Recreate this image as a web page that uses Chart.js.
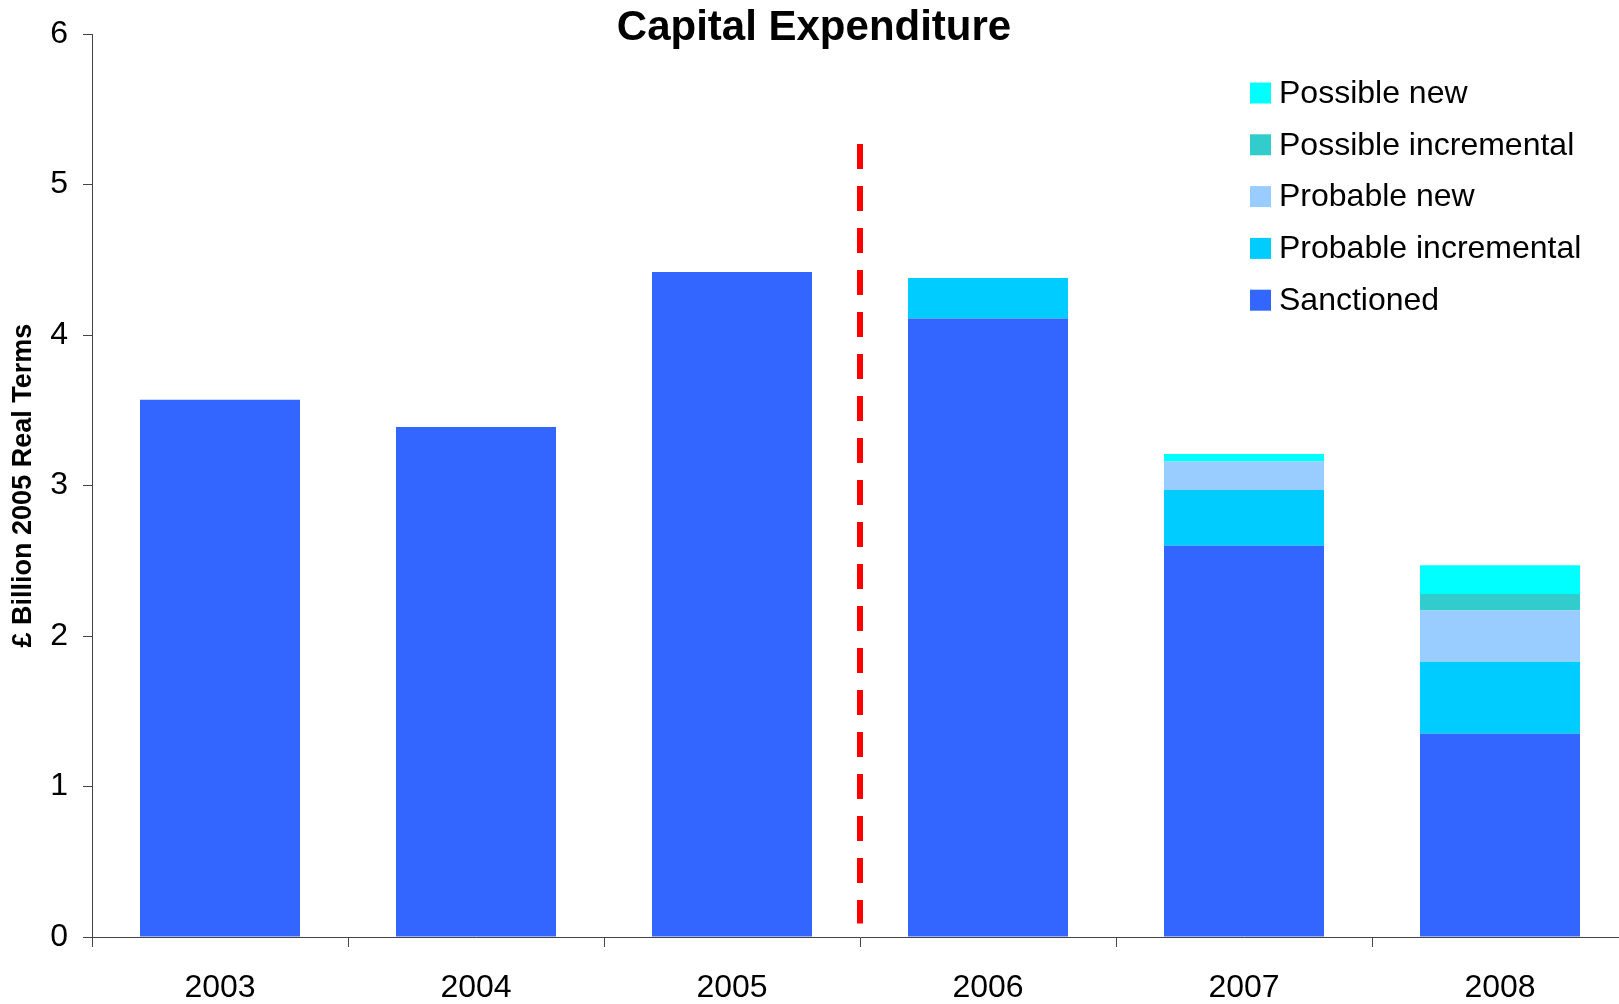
<!DOCTYPE html>
<html>
<head>
<meta charset="utf-8">
<script src="https://cdn.jsdelivr.net/npm/chart.js@4.4.1/dist/chart.umd.min.js"></script>
<style>
    html, body { margin: 0; padding: 0; overflow: hidden; background: #fff; }
    #wrap { position: absolute; left: 0; top: 0; width: 1640px; height: 1004px; }
</style>
</head>
<body>
<div id="wrap"><canvas id="capexChart" width="1640" height="1004"></canvas></div>
<script>
// Datos (£ billion, 2005 real terms)
const years = ['2003', '2004', '2005', '2006', '2007', '2008'];
const sanctioned = [3.57, 3.39, 4.42, 4.11, 2.60, 1.35];
const probableIncremental = [0, 0, 0, 0.27, 0.37, 0.48];
const probableNew = [0, 0, 0, 0, 0.19, 0.34];
const possibleIncremental = [0, 0, 0, 0, 0, 0.11];
const possibleNew = [0, 0, 0, 0, 0.05, 0.19];
const yTicks = [0, 1, 2, 3, 4, 5, 6];
// linea roja entre 2005 y 2006 (en valores del eje y)
const dividerTop = 5.27;
const dividerBottom = 0.09;

const FONT = '"Liberation Sans", Arial, sans-serif';

// Linea discontinua roja en el limite entre categorias
const dividerPlugin = {
    id: 'divider',
    afterDatasetsDraw(chart) {
        const x = chart.scales.x, y = chart.scales.y;
        const px = (x.getPixelForValue(2) + x.getPixelForValue(3)) / 2;
        const ctx = chart.ctx;
        ctx.save();
        ctx.strokeStyle = '#FF0000';
        ctx.lineWidth = 6;
        ctx.setLineDash([25, 17]);
        ctx.beginPath();
        ctx.moveTo(px, y.getPixelForValue(dividerTop));
        ctx.lineTo(px, y.getPixelForValue(dividerBottom));
        ctx.stroke();
        ctx.restore();
    }
};

// Leyenda dentro del area (orden invertido)
const legendPlugin = {
    id: 'boxLegend',
    afterDraw(chart) {
        const ctx = chart.ctx;
        const sets = chart.data.datasets.slice().reverse();
        ctx.save();
        ctx.font = '32px ' + FONT;
        ctx.textBaseline = 'middle';
        ctx.textAlign = 'left';
        sets.forEach((ds, i) => {
            const cy = 93 + i * 51.8;
            ctx.fillStyle = ds.backgroundColor;
            ctx.fillRect(1250, cy - 10.5, 21, 21);
            ctx.fillStyle = '#000';
            ctx.fillText(ds.label, 1279, cy + 1);
        });
        ctx.restore();
    }
};

const ctx = document.getElementById('capexChart').getContext('2d');
const capexChart = new Chart(ctx, {
    type: 'bar',
    data: {
        labels: years,
        datasets: [
            { label: 'Sanctioned', data: sanctioned, backgroundColor: '#3366FF' },
            { label: 'Probable incremental', data: probableIncremental, backgroundColor: '#00CCFF' },
            { label: 'Probable new', data: probableNew, backgroundColor: '#99CCFF' },
            { label: 'Possible incremental', data: possibleIncremental, backgroundColor: '#33CCCC' },
            { label: 'Possible new', data: possibleNew, backgroundColor: '#00FFFF' }
        ]
    },
    options: {
        responsive: false,
        animation: false,
        devicePixelRatio: 1,
        layout: { padding: { left: 0, right: 12, top: 0, bottom: 0 } },
        datasets: {
            bar: { categoryPercentage: 1, barPercentage: 0.625, borderWidth: 0 }
        },
        plugins: {
            legend: { display: false },
            tooltip: { enabled: false },
            title: {
                display: true,
                text: 'Capital Expenditure',
                color: '#000',
                font: { family: FONT, size: 42, weight: 'bold' },
                padding: { top: 2, bottom: -19 }
            }
        },
        scales: {
            x: {
                stacked: true,
                afterFit: s => { s.height = 67; },
                grid: { display: true, drawOnChartArea: false, offset: true, tickLength: 10, color: '#444' },
                border: { display: true, color: '#444', width: 1 },
                ticks: { color: '#000', padding: 22, font: { family: FONT, size: 32 } }
            },
            y: {
                stacked: true,
                min: 0,
                max: 6,
                afterFit: s => { s.width = 92; },
                afterBuildTicks: s => { s.ticks = yTicks.map(v => ({ value: v })); },
                grid: { display: true, drawOnChartArea: false, tickLength: 9, color: '#444' },
                border: { display: true, color: '#444', width: 1 },
                ticks: { color: '#000', padding: 15, font: { family: FONT, size: 32 } },
                title: {
                    display: true,
                    text: '£ Billion 2005 Real Terms',
                    color: '#000',
                    font: { family: FONT, size: 27, weight: 'bold' },
                    padding: { top: 7, bottom: 0 }
                }
            }
        }
    },
    plugins: [dividerPlugin, legendPlugin]
});
</script>
</body>
</html>
